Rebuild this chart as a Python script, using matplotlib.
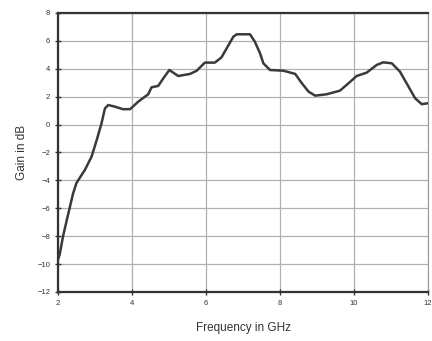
import matplotlib
matplotlib.use("Agg")
import matplotlib.pyplot as plt

freq = [2.0, 2.05, 2.14, 2.28, 2.41, 2.5, 2.62, 2.73, 2.91, 3.05, 3.18, 3.27, 3.36, 3.54, 3.76,
        3.95, 4.17, 4.44, 4.53, 4.71, 4.85, 5.01, 5.25, 5.57, 5.75, 5.97, 6.24, 6.42, 6.56,
        6.74, 6.83, 7.19, 7.32, 7.46, 7.55, 7.73, 8.09, 8.41, 8.59, 8.77, 8.95, 9.26, 9.62,
        9.85, 10.07, 10.34, 10.61, 10.79, 11.02, 11.24, 11.47, 11.65, 11.83, 12.0]
gain = [-9.7, -9.3, -8.0, -6.4, -4.95, -4.2, -3.7, -3.25, -2.3, -1.1, 0.1, 1.15, 1.4, 1.28, 1.1,
        1.1, 1.64, 2.17, 2.67, 2.77, 3.32, 3.91, 3.48, 3.63, 3.86, 4.44, 4.44, 4.82, 5.47,
        6.3, 6.47, 6.47, 5.94, 5.11, 4.39, 3.91, 3.86, 3.63, 2.96, 2.36, 2.07, 2.17, 2.43,
        2.96, 3.48, 3.72, 4.27, 4.46, 4.39, 3.79, 2.72, 1.88, 1.46, 1.53]

xticks = [2, 4, 6, 8, 10, 12]
yticks = [-12, -10, -8, -6, -4, -2, 0, 2, 4, 6, 8]

plt.rcParams['font.family'] = ['Liberation Sans', 'DejaVu Sans']
fig = plt.figure(figsize=(4.32, 3.41), dpi=100)
ax = fig.add_axes([0.134, 0.144, 0.857, 0.818])
ax.plot(freq, gain, color='#3a3a3a', lw=1.8)
ax.set_xlim(2, 12)
ax.set_ylim(-12, 8)
ax.set_xticks(xticks)
ax.set_yticks(yticks)
ax.grid(True, color='#b0b0b0', lw=0.9)
ax.tick_params(direction='inout', length=4, width=1, labelsize=5.5, colors='#333333')
for s in ['left', 'bottom', 'top']:
    ax.spines[s].set_linewidth(1.6)
    ax.spines[s].set_color('#333333')
ax.spines['right'].set_linewidth(0.8)
ax.spines['right'].set_color('#999999')
ax.set_xlabel('Frequency in GHz', fontsize=8.5, color='#333333', labelpad=11)
ax.set_ylabel('Gain in dB', fontsize=8.5, color='#333333', labelpad=7)
fig.savefig('out.png', dpi=100)
